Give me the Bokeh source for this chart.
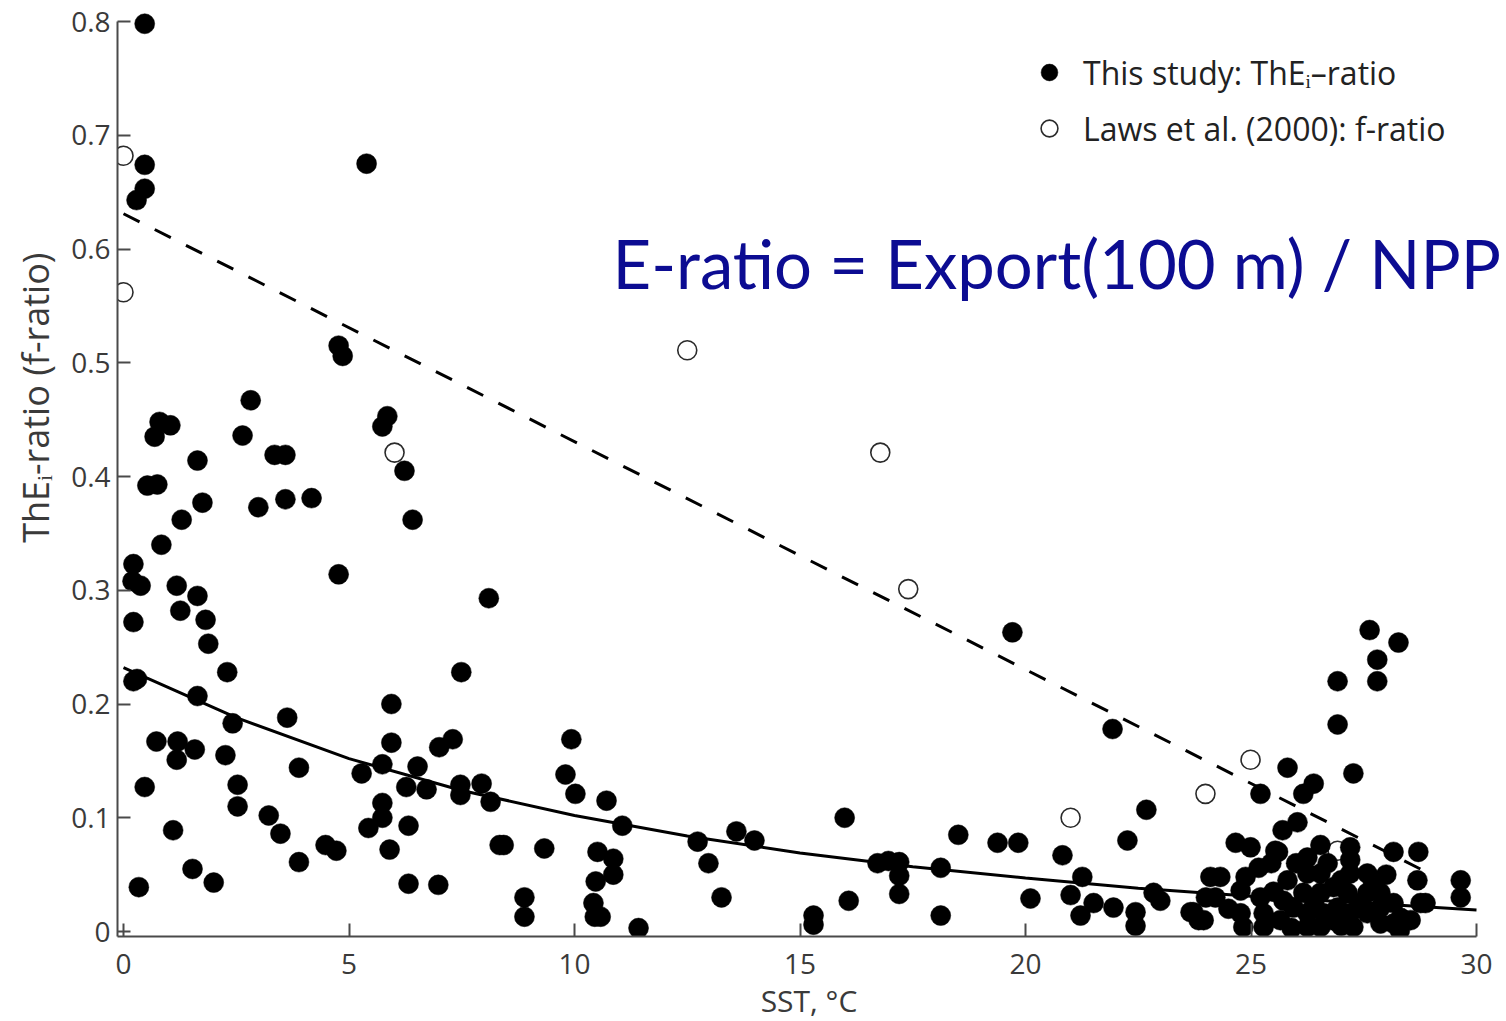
from bokeh.plotting import figure
from bokeh.models import (Range1d, FixedTicker, Label, Legend, LegendItem)
from bokeh.embed import file_html
from bokeh.resources import INLINE

# ---------------- data ----------------
# This study: ThE_i-ratio (filled circles)
study_sst = [
    0.47, 0.47, 0.47, 0.29, 5.39, 4.77, 4.86, 5.85, 5.74, 6.23,
    2.82, 2.64, 0.80, 1.04, 0.69, 1.64, 3.35, 3.59, 0.53, 0.75,
    1.75, 2.99, 3.59, 4.17, 6.41, 1.29, 0.84, 4.77, 8.10,
    0.22, 0.20, 0.38, 0.22, 1.18, 1.26, 1.64, 1.82, 1.88, 2.30,
    0.22, 0.30, 1.64, 2.42, 3.63, 0.73, 1.20, 1.18, 1.58, 2.26,
    2.53, 2.53, 0.47, 1.10, 3.22, 3.48, 3.89, 3.89, 1.53, 2.00,
    0.34, 4.48, 4.72,
    7.49, 5.94, 5.94, 7.00, 7.30, 5.28, 5.74, 6.52, 6.27, 6.72,
    7.47, 7.47, 7.94, 8.14, 5.74, 5.74, 5.43, 6.32, 5.90, 6.32,
    6.98, 8.34,
    9.93, 9.80, 10.02, 10.71, 11.06, 8.43, 9.33, 8.89, 8.89, 10.51,
    10.86, 10.86, 10.47, 10.42, 10.58, 10.45, 11.42, 12.73, 12.97, 13.26,
    13.59, 13.99, 15.30, 15.30, 15.99, 16.08, 16.72, 16.96, 17.20, 17.20,
    17.20, 18.12, 18.12, 18.51, 19.38,
    19.71, 21.93, 19.84, 20.82, 20.11, 21.26, 21.00, 21.22, 21.51, 21.95,
    22.26, 22.68, 22.84, 22.99, 22.44, 22.44, 23.66, 23.84, 24.10, 24.32,
    24.66, 24.99, 25.21, 25.81, 26.16, 26.39, 26.03, 25.70, 25.54, 25.17,
    26.92, 26.92, 27.27, 27.63, 27.80, 27.80, 28.27, 26.54, 27.20, 28.16,
    28.71, 28.69, 28.87, 29.65, 29.65, 28.30,
    24.21, 24.88, 24.77, 24.77, 24.83, 25.21, 25.28, 25.28, 25.81, 25.72,
    25.65, 25.94, 26.25, 26.25, 26.16, 26.25, 26.25, 26.54, 26.54, 26.61,
    26.54, 26.83, 26.92, 27.20, 27.20, 27.14, 27.20, 27.27, 27.58, 27.58,
    27.58, 27.87, 27.87, 28.16, 28.32, 28.54, 28.76, 28.16, 27.87, 23.72,
    23.95, 26.00, 26.70, 27.00, 27.40, 26.40, 25.50, 27.70, 28.00, 26.80,
    27.00, 25.90, 24.50, 24.00, 25.45, 25.60,
]
study_ratio = [
    0.798, 0.674, 0.653, 0.643, 0.675, 0.515, 0.506, 0.453, 0.444, 0.405,
    0.467, 0.436, 0.448, 0.445, 0.435, 0.414, 0.419, 0.419, 0.392, 0.393,
    0.377, 0.373, 0.380, 0.381, 0.362, 0.362, 0.340, 0.314, 0.293,
    0.323, 0.308, 0.304, 0.272, 0.304, 0.282, 0.295, 0.274, 0.253, 0.228,
    0.220, 0.222, 0.207, 0.183, 0.188, 0.167, 0.167, 0.151, 0.160, 0.155,
    0.129, 0.110, 0.127, 0.089, 0.102, 0.086, 0.144, 0.061, 0.055, 0.043,
    0.039, 0.076, 0.071,
    0.228, 0.200, 0.166, 0.162, 0.169, 0.139, 0.147, 0.145, 0.127, 0.125,
    0.129, 0.120, 0.130, 0.114, 0.113, 0.100, 0.091, 0.093, 0.072, 0.042,
    0.041, 0.076,
    0.169, 0.138, 0.121, 0.115, 0.093, 0.076, 0.073, 0.030, 0.013, 0.070,
    0.064, 0.050, 0.044, 0.025, 0.013, 0.013, 0.003, 0.079, 0.060, 0.030,
    0.088, 0.080, 0.014, 0.006, 0.100, 0.027, 0.060, 0.062, 0.061, 0.049,
    0.033, 0.056, 0.014, 0.085, 0.078,
    0.263, 0.178, 0.078, 0.067, 0.029, 0.048, 0.032, 0.014, 0.025, 0.021,
    0.080, 0.107, 0.034, 0.027, 0.017, 0.005, 0.017, 0.010, 0.048, 0.048,
    0.078, 0.074, 0.121, 0.144, 0.121, 0.130, 0.096, 0.089, 0.071, 0.056,
    0.220, 0.182, 0.139, 0.265, 0.239, 0.220, 0.254, 0.076, 0.074, 0.070,
    0.070, 0.045, 0.025, 0.045, 0.030, 0.001,
    0.030, 0.048, 0.036, 0.016, 0.004, 0.030, 0.016, 0.004, 0.045, 0.027,
    0.010, 0.021, 0.065, 0.051, 0.034, 0.016, 0.004, 0.051, 0.034, 0.016,
    0.004, 0.039, 0.021, 0.063, 0.051, 0.034, 0.016, 0.004, 0.051, 0.034,
    0.016, 0.034, 0.021, 0.025, 0.012, 0.010, 0.025, 0.007, 0.007, 0.017,
    0.010, 0.060, 0.060, 0.045, 0.025, 0.025, 0.035, 0.045, 0.050, 0.010,
    0.005, 0.003, 0.020, 0.030, 0.060, 0.070,
]

# Laws et al. (2000): f-ratio (open circles)
laws_sst = [0.0, 0.0, 12.5, 6.01, 16.78, 17.4, 21.0, 23.99, 24.99, 26.92]
laws_ratio = [0.682, 0.562, 0.511, 0.421, 0.421, 0.301, 0.100, 0.121, 0.151, 0.071]

# fitted curve for this study (solid)
fit_sst = [0, 2.5, 5, 7.5, 10, 12.5, 15, 17.5, 20, 22.5, 25, 27.5, 30]
fit_ratio = [0.232, 0.188, 0.152, 0.124, 0.102, 0.084, 0.069, 0.057, 0.047,
             0.038, 0.031, 0.025, 0.019]

# Laws relationship (dashed)
laws_fit_sst = [0.0, 29.05]
laws_fit_ratio = [0.631, 0.049]

x_ticks = [0, 5, 10, 15, 20, 25, 30]
y_ticks = [0, 0.1, 0.2, 0.3, 0.4, 0.5, 0.6, 0.7, 0.8]
y_tick_labels = ["0", "0.1", "0.2", "0.3", "0.4", "0.5", "0.6", "0.7", "0.8"]

legend_labels = ["This study: ThE\u1d62\u2013ratio", "Laws et al. (2000): f-ratio"]
x_title = "SST, \u00b0C"
y_title = "ThE\u1d62-ratio (f-ratio)"
overlay_text = "E-ratio = Export(100 m) / NPP"

# ---------------- figure ----------------
W, H = 1506, 1021
FL, FR, FT, FB = 117, 1500, 8, 936      # frame edges in pixels
X0PX, X30PX = 123, 1476
Y0PX, Y08PX = 931, 21
sx = (X30PX - X0PX) / 30.0
sy = (Y0PX - Y08PX) / 0.8

def dx(px):
    return (px - X0PX) / sx

def dy(py):
    return (Y0PX - py) / sy

p = figure(frame_width=FR - FL, frame_height=FB - FT,
           output_backend="svg", toolbar_location=None,
           x_range=Range1d(dx(FL), dx(FR)), y_range=Range1d(dy(FB), dy(FT)),
           min_border_left=FL, min_border_right=W - FR,
           min_border_top=FT, min_border_bottom=0)
p.outline_line_color = None
p.xgrid.visible = False
p.ygrid.visible = False
p.background_fill_color = "white"
p.border_fill_color = "white"

axis_color = "#4a4a4a"
lab_color = "#3a3a3a"
for ax in (p.xaxis[0], p.yaxis[0]):
    ax.axis_line_color = axis_color
    ax.axis_line_width = 2
    ax.major_tick_line_color = axis_color
    ax.major_tick_line_width = 2
    ax.major_tick_in = 13
    ax.major_tick_out = 0
    ax.minor_tick_line_color = None
    ax.major_label_text_font = "Open Sans"
    ax.major_label_text_font_size = "28px"
    ax.major_label_text_color = lab_color
    ax.axis_label_text_font = "Open Sans"
    ax.axis_label_text_font_style = "normal"
    ax.axis_label_text_color = lab_color

p.xaxis[0].ticker = FixedTicker(ticks=x_ticks)
p.xaxis[0].bounds = (dx(FL), 30)
p.xaxis[0].major_label_standoff = 17
p.xaxis[0].axis_label = x_title
p.xaxis[0].axis_label_standoff = 3
p.xaxis[0].axis_label_text_font_size = "30px"

p.yaxis[0].ticker = FixedTicker(ticks=y_ticks)
p.yaxis[0].bounds = (dy(FB), 0.8)
p.yaxis[0].major_label_standoff = 7
p.yaxis[0].major_label_overrides = {t: l for t, l in zip(y_ticks, y_tick_labels)}
# leading no-break spaces shift the centred title up to where the original sits
p.yaxis[0].axis_label = "\u00a0" * 16 + y_title
p.yaxis[0].axis_label_standoff = 8
p.yaxis[0].axis_label_text_font_size = "36px"

# lines
p.line(laws_fit_sst, laws_fit_ratio, line_color="black", line_width=3,
       line_dash="18 17")
p.line(fit_sst, fit_ratio, line_color="black", line_width=3)

# markers
r_laws = p.scatter(laws_sst, laws_ratio, marker="circle", size=19,
                   fill_color="white", line_color="#2a2a2a", line_width=1.6)
r_study = p.scatter(study_sst, study_ratio, marker="circle", size=20,
                    fill_color="black", line_color="black", line_width=0.5)

# legend
legend = Legend(items=[LegendItem(label=legend_labels[0], renderers=[r_study]),
                       LegendItem(label=legend_labels[1], renderers=[r_laws])],
                location=(1028 - FL, FB - 150), padding=0, margin=0,
                glyph_width=42, glyph_height=44, label_height=44, spacing=12,
                label_standoff=13, border_line_alpha=0, background_fill_alpha=0,
                label_text_font="Open Sans", label_text_font_size="32px",
                label_text_color="#222222")
p.add_layout(legend)

# overlay annotation
p.add_layout(Label(x=dx(612), y=dy(262), text=overlay_text, text_align="left",
                   text_baseline="alphabetic", text_font="Lato",
                   text_font_size="67px", text_color="#0c0c92"))

open("out.html", "w").write(file_html(p, INLINE))
